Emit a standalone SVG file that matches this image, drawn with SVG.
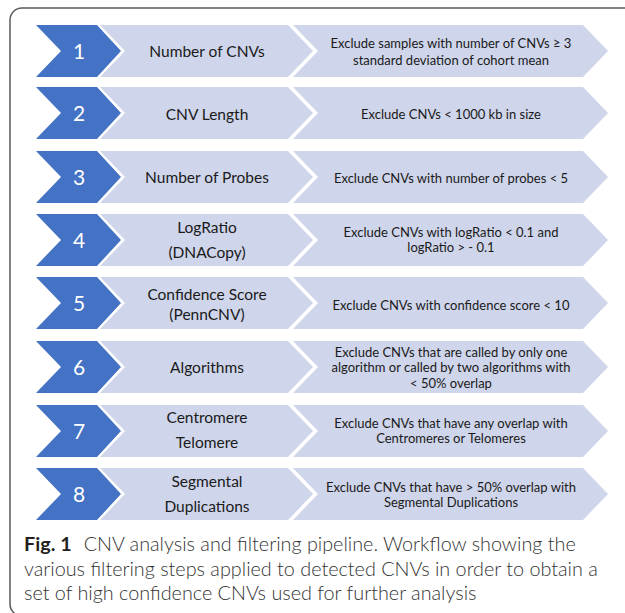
<svg xmlns="http://www.w3.org/2000/svg" xmlns:xlink="http://www.w3.org/1999/xlink" width="625" height="613" viewBox="0 0 625 613">
<style>
.blue{fill:#4472C4}
.light{fill:#CFD5EA}
.num{font-family:Lato,"Open Sans","Liberation Sans",sans-serif;font-size:21px;fill:#FFFFFF;text-anchor:middle}
.mid{font-family:Lato,"Open Sans","Liberation Sans",sans-serif;font-size:15.5px;fill:#1A1A1A;text-anchor:middle}
.rt{font-family:Lato,"Open Sans","Liberation Sans",sans-serif;font-size:13px;fill:#1A1A1A;text-anchor:middle}
.cap{font-family:Lato,"Noto Sans","Liberation Sans",sans-serif;font-size:19.8px;font-weight:300;fill:#333333}
.capb{font-weight:700;fill:#231F20}
</style>
<defs>
<path id="chevBlue" d="M36,0 H97 L121,26 L97,52 H36 L61,26 Z"/>
<path id="chevMid" d="M100,0 H288 L313,26 L288,52 H100 L125,26 Z"/>
<path id="chevRight" d="M293,0 H583 L608,26 L583,52 H293 L318,26 Z"/>
</defs>
<rect x="10" y="8" width="640" height="608" rx="12" ry="12" fill="#FFFFFF" stroke="#5A5A5A" stroke-width="1.5"/>
<g id="connectors"></g>
<g id="step1" transform="translate(0,25)">
<use xlink:href="#chevBlue" class="blue"/><use xlink:href="#chevMid" class="light"/><use xlink:href="#chevRight" class="light"/>
<text class="num" x="79" y="33.5">1</text>
<text class="mid" x="207" y="31.5">Number of CNVs</text>
<text class="rt" x="451" y="22.5">Exclude samples with number of CNVs ≥ 3</text>
<text class="rt" x="451" y="39.5">standard deviation of cohort mean</text>
</g>
<g id="step2" transform="translate(0,87)">
<use xlink:href="#chevBlue" class="blue"/><use xlink:href="#chevMid" class="light"/><use xlink:href="#chevRight" class="light"/>
<text class="num" x="79" y="33.5">2</text>
<text class="mid" x="207" y="32.5">CNV Length</text>
<text class="rt" x="451" y="31.5">Exclude CNVs &lt; 1000 kb in size</text>
</g>
<g id="step3" transform="translate(0,151)">
<use xlink:href="#chevBlue" class="blue"/><use xlink:href="#chevMid" class="light"/><use xlink:href="#chevRight" class="light"/>
<text class="num" x="79" y="33.5">3</text>
<text class="mid" x="207" y="31.5">Number of Probes</text>
<text class="rt" x="451" y="31.5">Exclude CNVs with number of probes &lt; 5</text>
</g>
<g id="step4" transform="translate(0,214)">
<use xlink:href="#chevBlue" class="blue"/><use xlink:href="#chevMid" class="light"/><use xlink:href="#chevRight" class="light"/>
<text class="num" x="79" y="33.5">4</text>
<text class="mid" x="207" y="19">LogRatio</text>
<text class="mid" x="207" y="44">(DNACopy)</text>
<text class="rt" x="451" y="22.5">Exclude CNVs with logRatio &lt; 0.1 and</text>
<text class="rt" x="451" y="37.5">logRatio &gt; - 0.1</text>
</g>
<g id="step5" transform="translate(0,277)">
<use xlink:href="#chevBlue" class="blue"/><use xlink:href="#chevMid" class="light"/><use xlink:href="#chevRight" class="light"/>
<text class="num" x="79" y="33.5">5</text>
<text class="mid" x="207" y="23">Confidence Score</text>
<text class="mid" x="207" y="43">(PennCNV)</text>
<text class="rt" x="451" y="32.5">Exclude CNVs with confidence score &lt; 10</text>
</g>
<g id="step6" transform="translate(0,341)">
<use xlink:href="#chevBlue" class="blue"/><use xlink:href="#chevMid" class="light"/><use xlink:href="#chevRight" class="light"/>
<text class="num" x="79" y="33.5">6</text>
<text class="mid" x="207" y="31.5">Algorithms</text>
<text class="rt" x="451" y="15.5">Exclude CNVs that are called by only one</text>
<text class="rt" x="451" y="31">algorithm or called by two algorithms with</text>
<text class="rt" x="451" y="46.5">&lt; 50% overlap</text>
</g>
<g id="step7" transform="translate(0,405)">
<use xlink:href="#chevBlue" class="blue"/><use xlink:href="#chevMid" class="light"/><use xlink:href="#chevRight" class="light"/>
<text class="num" x="79" y="33.5">7</text>
<text class="mid" x="207" y="18">Centromere</text>
<text class="mid" x="207" y="43">Telomere</text>
<text class="rt" x="451" y="22.5">Exclude CNVs that have any overlap with</text>
<text class="rt" x="451" y="37.5">Centromeres or Telomeres</text>
</g>
<g id="step8" transform="translate(0,468)">
<use xlink:href="#chevBlue" class="blue"/><use xlink:href="#chevMid" class="light"/><use xlink:href="#chevRight" class="light"/>
<text class="num" x="79" y="33.5">8</text>
<text class="mid" x="207" y="19">Segmental</text>
<text class="mid" x="207" y="44">Duplications</text>
<text class="rt" x="451" y="23.5">Exclude CNVs that have &gt; 50% overlap with</text>
<text class="rt" x="451" y="39">Segmental Duplications</text>
</g>
<g id="caption">
<text class="cap" x="24" y="551"><tspan class="capb">Fig. 1</tspan><tspan dx="12">CNV analysis and filtering pipeline. Workflow showing the</tspan></text>
<text class="cap" x="24" y="576">various filtering steps applied to detected CNVs in order to obtain a</text>
<text class="cap" x="24" y="600">set of high confidence CNVs used for further analysis</text>
</g>
</svg>
